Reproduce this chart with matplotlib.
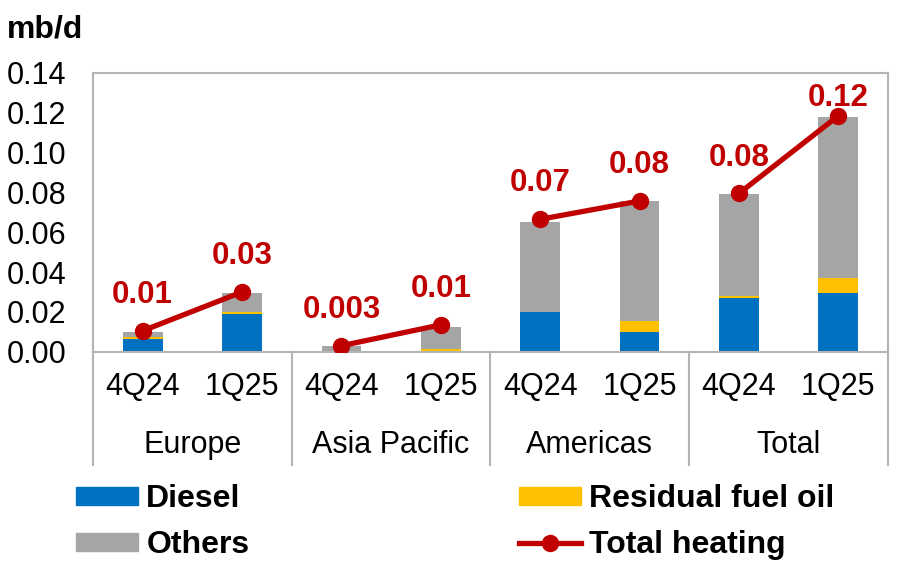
import numpy as np
import matplotlib
matplotlib.use("Agg")
import matplotlib.pyplot as plt
from matplotlib.patches import Patch
from matplotlib.lines import Line2D
import matplotlib.transforms as mtransforms

plt.rcParams['font.family'] = ['Liberation Sans', 'DejaVu Sans']

# data
regions = ['Europe', 'Asia Pacific', 'Americas', 'Total']
quarters = ['4Q24', '1Q25']
diesel = [0.0065, 0.0190, 0.0, 0.0, 0.0198, 0.0097, 0.0270, 0.0294]
residual = [0.0008, 0.0008, 0.0, 0.0015, 0.0, 0.0056, 0.0008, 0.0075]
others = [0.0027, 0.0095, 0.0030, 0.0111, 0.0452, 0.0602, 0.0512, 0.0811]
total_heating = [0.0105, 0.0300, 0.0030, 0.0135, 0.0665, 0.0757, 0.0795, 0.1185]
heating_labels = ['0.01', '0.03', '0.003', '0.01', '0.07', '0.08', '0.08', '0.12']

c_diesel = '#0070C0'
c_resid = '#FFC000'
c_other = '#A5A5A5'
c_line = '#C00000'
c_axis = '#B4B4B4'

fig = plt.figure(figsize=(9.12, 5.73), dpi=100)
ax = fig.add_axes([93/912, 1-351.7/573, (888-93)/912, (351.7-73)/573])

n = len(diesel)
x = np.arange(n) + 0.5
w = 0.4
d = np.array(diesel)
r = np.array(residual)
o = np.array(others)
ax.bar(x, d, w, color=c_diesel, zorder=2)
ax.bar(x, r, w, bottom=d, color=c_resid, zorder=2)
ax.bar(x, o, w, bottom=d + r, color=c_other, zorder=2)

# one line segment per region
for g in range(len(regions)):
    idx = [2*g, 2*g + 1]
    ax.plot(x[idx], [total_heating[i] for i in idx], color=c_line, lw=3.8,
            marker='o', ms=11.5, zorder=3)

# last label sits closer to its point (top of the plot)
offsets = [15, 15, 15, 15, 15, 15, 15, 2]
for i in range(n):
    ax.annotate(heating_labels[i], (x[i], total_heating[i]), xytext=(0, offsets[i]),
                textcoords='offset points', ha='center', va='bottom',
                fontsize=22.5, fontweight='bold', color=c_line, zorder=4)

ax.set_xlim(0, n)
ax.set_ylim(0, 0.14)
ax.set_yticks(np.arange(0, 0.141, 0.02))
ax.yaxis.set_major_formatter(plt.FuncFormatter(lambda v, p: f'{v:.2f}'))
ax.tick_params(axis='y', length=0, pad=19, labelsize=22)
ax.set_xticks([])
for s in ax.spines.values():
    s.set_color(c_axis)
    s.set_linewidth(1.5)

# category axis below the plot
trans = mtransforms.blended_transform_factory(ax.transData, ax.transAxes)
for b in range(0, n + 1, 2):
    ax.plot([b, b], [0, -0.407], color=c_axis, lw=1.5, transform=trans, clip_on=False)
for i in range(n):
    ax.text(x[i], -0.127, quarters[i % 2], transform=trans, ha='center', va='center',
            fontsize=22)
for g, name in enumerate(regions):
    ax.text(2*g + 1, -0.335, name, transform=trans, ha='center', va='center',
            fontsize=22)

fig.text(7/912, 1-30/573, 'mb/d', fontsize=23, fontweight='bold', va='center', ha='left')

h1 = [Patch(color=c_diesel), Patch(color=c_other)]
h2 = [Patch(color=c_resid), Line2D([], [], color=c_line, lw=3.8, marker='o', ms=11.5)]
kw = dict(frameon=False, loc='upper left', borderpad=0, borderaxespad=0,
          handlelength=1.95, handleheight=0.5, handletextpad=0.25, labelspacing=0.5,
          prop={'size': 23, 'weight': 'bold'})
fig.legend(h1, ['Diesel', 'Others'], bbox_to_anchor=(76/912, 1-484/573), **kw)
fig.legend(h2, ['Residual fuel oil', 'Total heating'], bbox_to_anchor=(519/912, 1-484/573), **kw)

fig.savefig('out.png', dpi=100)
